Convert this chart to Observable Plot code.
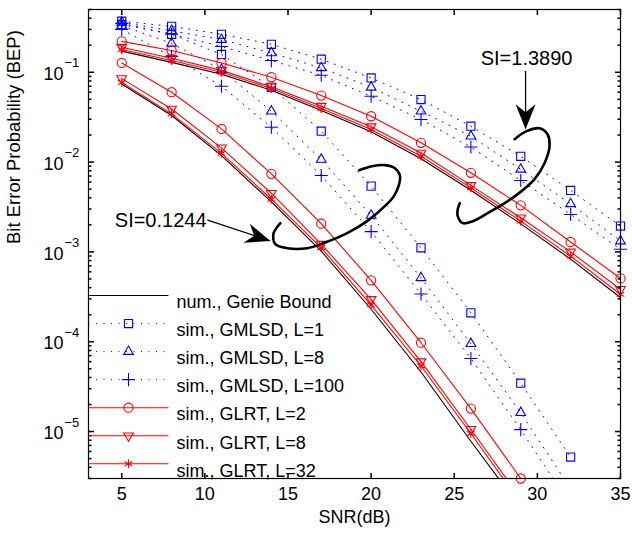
<!DOCTYPE html>
<html><head><meta charset="utf-8">
<script src="https://cdn.jsdelivr.net/npm/d3@7"></script>
<script src="https://cdn.jsdelivr.net/npm/@observablehq/plot@0.6"></script>
<style>
body{margin:0;background:#fff;}
svg{font-family:"Liberation Sans",Arial,Helvetica,sans-serif;}
</style>
</head><body><div id="chart"></div>
<script>
// ---------------- data ----------------
const snr = [5, 8, 11, 14, 17, 20, 23, 26, 29, 32, 35];

// SI = 0.1244 group (left, steep)
const genieLo  = [0.074, 0.033, 0.0118, 3.6e-3, 1.02e-3, 2.3e-4, 4.6e-5, 7.8e-6, 1.4e-6];
const gm1Lo    = [0.34, 0.265, 0.158, 0.068, 0.0221, 5.4e-3, 1.11e-3, 2.1e-4, 3.45e-5, 5.2e-6];
const gm8Lo    = [0.33, 0.21, 0.107, 0.0368, 0.0107, 2.55e-3, 5.15e-4, 9.5e-5, 1.62e-5, 2.3e-6];
const gm100Lo  = [0.30, 0.15, 0.07, 0.0244, 7.1e-3, 1.68e-3, 3.4e-4, 6.5e-5, 1.05e-5, 1.5e-6];
const glrt2Lo  = [0.127, 0.060, 0.0234, 7.4e-3, 2.06e-3, 4.82e-4, 9.75e-5, 1.8e-5, 3.0e-6];
const glrt8Lo  = [0.085, 0.039, 0.0144, 4.5e-3, 1.22e-3, 2.96e-4, 6.0e-5, 1.06e-5, 1.8e-6];
const glrt32Lo = [0.077, 0.0344, 0.0125, 3.86e-3, 1.11e-3, 2.56e-4, 5.37e-5, 9.5e-6, 1.6e-6];

// SI = 1.3890 group (right, flat)
const genieHi  = [0.172, 0.129, 0.095, 0.063, 0.0375, 0.0218, 0.0109, 4.85e-3, 2.05e-3, 8.3e-4, 3.1e-4];
const gm1Hi    = [0.37, 0.325, 0.265, 0.205, 0.14, 0.0865, 0.0497, 0.0251, 0.0116, 4.83e-3, 1.94e-3];
const gm8Hi    = [0.36, 0.29, 0.231, 0.164, 0.112, 0.068, 0.0368, 0.0194, 8.3e-3, 3.43e-3, 1.32e-3];
const gm100Hi  = [0.35, 0.265, 0.194, 0.135, 0.0927, 0.054, 0.0298, 0.0147, 6.24e-3, 2.61e-3, 1.07e-3];
const glrt2Hi  = [0.221, 0.175, 0.127, 0.088, 0.055, 0.0324, 0.0164, 7.6e-3, 3.3e-3, 1.29e-3, 5.07e-4];
const glrt8Hi  = [0.19, 0.143, 0.105, 0.069, 0.0419, 0.0248, 0.0126, 5.5e-3, 2.4e-3, 1.0e-3, 3.83e-4];
const glrt32Hi = [0.179, 0.135, 0.1, 0.066, 0.0394, 0.023, 0.0116, 5.16e-3, 2.2e-3, 8.97e-4, 3.37e-4];

const legendLabels = ["num., Genie Bound", "sim., GMLSD, L=1", "sim., GMLSD, L=8",
  "sim., GMLSD, L=100", "sim., GLRT, L=2", "sim., GLRT, L=8", "sim., GLRT, L=32"];
const legendKeys = ["genie", "gm1", "gm8", "gm100", "glrt2", "glrt8", "glrt32"];

const xTicks = [5, 10, 15, 20, 25, 30, 35];
const yTickExps = [-5, -4, -3, -2, -1];
const minorMult = [2, 3, 4, 5, 6, 7, 8, 9];
const minorDecades = [-6, -5, -4, -3, -2, -1];

// annotations (data coordinates: SNR dB, BEP)
const siHiLabel = "SI=1.3890", siLoLabel = "SI=0.1244";
const siHiPos = {snr: 29.35, bep: 0.143};
const siLoPos = {snr: 10.1, bep: 2.22e-3};
const arrowHiSnr = [29.29, 29.29], arrowHiBep = [0.1026, 0.024];
const arrowLoSnr = [10.17, 13.9], arrowLoBep = [2.26e-3, 1.33e-3];
const arrowHeads = [
  {snr: 29.29, bep: 0.0232, angle: 180},
  {snr: 13.94, bep: 1.32e-3, angle: 108.4}
];
const ellLoSnr = [19.28, 20.05, 20.83, 21.43, 21.73, 21.67, 21.37, 20.95, 19.76, 18.56, 17.12, 16.16, 14.96, 14.24, 14.12, 14.30, 14.54];
const ellLoBep = [8.13e-3, 8.99e-3, 9.25e-3, 8.55e-3, 7.14e-3, 5.53e-3, 4.18e-3, 3.40e-3, 2.20e-3, 1.62e-3, 1.25e-3, 1.10e-3, 1.10e-3, 1.22e-3, 1.58e-3, 1.84e-3, 2.09e-3];
const ellHiSnr = [28.63, 29.35, 30.13, 30.61, 30.73, 30.43, 29.83, 29.05, 28.03, 27.01, 26.11, 25.51, 25.21, 25.21, 25.33];
const ellHiBep = [1.80e-2, 2.21e-2, 2.38e-2, 2.04e-2, 1.50e-2, 9.72e-3, 6.46e-3, 4.75e-3, 3.49e-3, 2.70e-3, 2.20e-3, 2.09e-3, 2.50e-3, 2.99e-3, 3.49e-3];

// ---------------- styles ----------------
const BLUE = "#0000ff", RED = "#ff0000";
const DOT = "1,6.5";
const styles = {
  genie:  {stroke: "#000", width: 1.1, dash: null, symbol: null},
  gm1:    {stroke: BLUE, width: 1, dash: DOT, symbol: "square", r: 4.6},
  gm8:    {stroke: BLUE, width: 1, dash: DOT, symbol: "triangle", r: 3.6},
  gm100:  {stroke: BLUE, width: 1, dash: DOT, symbol: "plus", r: 4.3},
  glrt2:  {stroke: RED, width: 1.1, dash: null, symbol: "circle", r: 4.6},
  glrt8:  {stroke: RED, width: 1.1, dash: null, symbol: "triangle", r: 3.6, rotate: 180},
  glrt32: {stroke: RED, width: 1.1, dash: null, symbol: "asterisk", r: 4.2}
};
const curves = [
  ["gm1", gm1Lo], ["gm8", gm8Lo], ["gm100", gm100Lo],
  ["gm1", gm1Hi], ["gm8", gm8Hi], ["gm100", gm100Hi],
  ["genie", genieLo], ["genie", genieHi],
  ["glrt2", glrt2Lo], ["glrt8", glrt8Lo], ["glrt32", glrt32Lo],
  ["glrt2", glrt2Hi], ["glrt8", glrt8Hi], ["glrt32", glrt32Hi]
];

const yDomain = [3e-6, 0.5], xDomain = [3, 35];
const FS = 18;

// ---------------- helpers: custom symbols ----------------
const tickSym = (len) => ({draw(c) { c.moveTo(0, 0); c.lineTo(0, -len); }});
const legendLineSym = {draw(c) { c.moveTo(-40, 0); c.lineTo(40, 0); }};
const arrowHeadSym = {draw(c) { c.moveTo(0, 0); c.lineTo(-10, 25); c.lineTo(0, 17); c.lineTo(10, 25); c.closePath(); }};

const marks = [];

// curves
for (const [key, vals] of curves) {
  const s = styles[key];
  const rows = vals.map((v, i) => ({snr: snr[i], bep: v}));
  marks.push(Plot.line(rows, {x: "snr", y: "bep", stroke: s.stroke, strokeWidth: s.width,
    strokeDasharray: s.dash || undefined, clip: true}));
}
for (const [key, vals] of curves) {
  const s = styles[key];
  if (!s.symbol) continue;
  const rows = vals.map((v, i) => ({snr: snr[i], bep: v}))
    .filter(d => d.bep >= yDomain[0] && d.bep <= yDomain[1] && d.snr <= xDomain[1]);
  marks.push(Plot.dot(rows, {x: "snr", y: "bep", symbol: s.symbol, r: s.r, rotate: s.rotate || 0,
    fill: "none", stroke: s.stroke, strokeWidth: 1.1}));
}

// annotations
marks.push(Plot.line(ellLoSnr.map((x, i) => ({snr: x, bep: ellLoBep[i]})), {x: "snr", y: "bep", curve: "catmull-rom", stroke: "#000", strokeWidth: 2.6}));
marks.push(Plot.line(ellHiSnr.map((x, i) => ({snr: x, bep: ellHiBep[i]})), {x: "snr", y: "bep", curve: "catmull-rom", stroke: "#000", strokeWidth: 2.6}));
marks.push(Plot.line(arrowHiSnr.map((x, i) => ({snr: x, bep: arrowHiBep[i]})), {x: "snr", y: "bep", stroke: "#000", strokeWidth: 1.2}));
marks.push(Plot.line(arrowLoSnr.map((x, i) => ({snr: x, bep: arrowLoBep[i]})), {x: "snr", y: "bep", stroke: "#000", strokeWidth: 1.2}));
marks.push(Plot.dot(arrowHeads, {x: "snr", y: "bep", rotate: "angle", symbol: arrowHeadSym, fill: "#000", stroke: "none"}));
marks.push(Plot.text([siHiPos], {x: "snr", y: "bep", text: () => siHiLabel, fontSize: 20, textAnchor: "middle", fill: "#000"}));
marks.push(Plot.text([siLoPos], {x: "snr", y: "bep", text: () => siLoLabel, fontSize: 20, textAnchor: "end", fill: "#000"}));

// frame and ticks
marks.push(Plot.frame({stroke: "#000", strokeWidth: 1.2}));
marks.push(Plot.dot(xTicks, {x: d => d, frameAnchor: "bottom", symbol: tickSym(5.5), fill: "none", stroke: "#000"}));
marks.push(Plot.dot(xTicks, {x: d => d, frameAnchor: "top", rotate: 180, symbol: tickSym(5.5), fill: "none", stroke: "#000"}));
const yMajor = yTickExps.map(e => Math.pow(10, e));
const yMinor = minorDecades.flatMap(e => minorMult.map(m => m * Math.pow(10, e)))
  .filter(v => v >= yDomain[0] && v <= yDomain[1]);
marks.push(Plot.dot(yMajor, {y: d => d, frameAnchor: "left", rotate: 90, symbol: tickSym(5.5), fill: "none", stroke: "#000"}));
marks.push(Plot.dot(yMajor, {y: d => d, frameAnchor: "right", rotate: -90, symbol: tickSym(5.5), fill: "none", stroke: "#000"}));
marks.push(Plot.dot(yMinor, {y: d => d, frameAnchor: "left", rotate: 90, symbol: tickSym(3), fill: "none", stroke: "#000"}));
marks.push(Plot.dot(yMinor, {y: d => d, frameAnchor: "right", rotate: -90, symbol: tickSym(3), fill: "none", stroke: "#000"}));

// tick labels
marks.push(Plot.text(xTicks, {x: d => d, frameAnchor: "bottom", dy: 21, text: d => String(d), fontSize: FS, fill: "#000"}));
marks.push(Plot.text(yMajor, {y: d => d, frameAnchor: "left", dx: -25, dy: 2, text: () => "10", textAnchor: "end", fontSize: FS, fill: "#000"}));
marks.push(Plot.text(yTickExps, {y: e => Math.pow(10, e), frameAnchor: "left", dx: -24, dy: -9, text: e => "\u2212" + Math.abs(e), textAnchor: "start", fontSize: 13, fill: "#000"}));

// axis titles
marks.push(Plot.text(["SNR(dB)"], {frameAnchor: "bottom", dy: 44, text: d => d, fontSize: FS, fill: "#000"}));
marks.push(Plot.text(["Bit Error Probability (BEP)"], {frameAnchor: "left", dx: -74, rotate: -90, text: d => d, fontSize: 18.5, fill: "#000"}));

// legend (inside, lower left)
legendKeys.forEach((key, i) => {
  const s = styles[key];
  const dy = 286 + i * 28.05;
  marks.push(Plot.dot([0], {frameAnchor: "top-left", dx: 40, dy, symbol: legendLineSym,
    fill: "none", stroke: s.stroke, strokeWidth: s.width, strokeDasharray: s.dash || undefined}));
  if (s.symbol) marks.push(Plot.dot([0], {frameAnchor: "top-left", dx: 40, dy, symbol: s.symbol, r: s.r,
    rotate: s.rotate || 0, fill: "none", stroke: s.stroke, strokeWidth: 1.1}));
  marks.push(Plot.text([legendLabels[i]], {frameAnchor: "top-left", dx: 88, dy, text: d => d,
    textAnchor: "start", fontSize: FS, fill: "#000"}));
});

const chart = Plot.plot({
  width: 632, height: 536,
  marginLeft: 88, marginRight: 12, marginTop: 9, marginBottom: 58,
  x: {domain: xDomain, axis: null},
  y: {type: "log", domain: yDomain, axis: null},
  style: {background: "#fff", fontFamily: "'Liberation Sans', Arial, Helvetica, sans-serif"},
  marks
});
document.getElementById("chart").appendChild(chart);
</script>
</body></html>
